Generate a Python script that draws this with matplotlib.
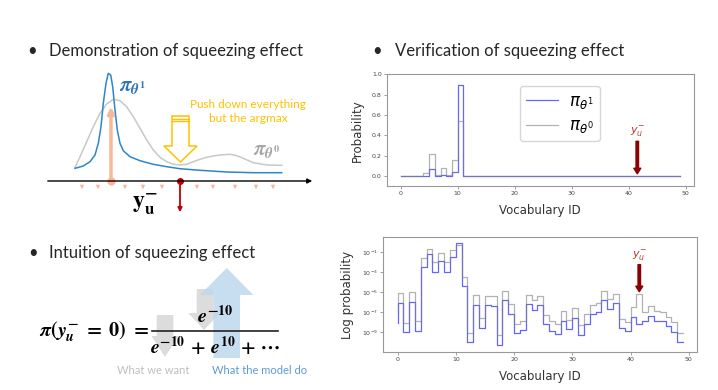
import numpy as np
import matplotlib
matplotlib.use('Agg')
import matplotlib.pyplot as plt
from matplotlib.patches import Polygon

plt.rcParams['mathtext.fontset'] = 'custom'
plt.rcParams['mathtext.it'] = 'STIXGeneral:italic:bold'
plt.rcParams['mathtext.rm'] = 'STIXGeneral:bold'
plt.rcParams['mathtext.bf'] = 'STIXGeneral:bold'
plt.rcParams['mathtext.fallback'] = 'stix'

# ---- data (log10 of probability) ----
vocab_id = np.arange(50)
log_p_theta0 = [-7.1, -5.1, -8.1, -4.97, -7.9, -1.6, -0.67, -2.0, -1.1, -2.0,
                -0.8, -0.27, -3.5, -9.1, -5.3, -7.63, -5.37, -5.4, -9.3, -4.87,
                -6.17, -8.2, -7.87, -5.27, -5.8, -5.37, -7.27, -7.9, -8.23, -6.9,
                -7.77, -6.63, -8.3, -7.23, -6.33, -6.07, -4.9, -5.73, -5.23, -7.67,
                -8.0, -6.5, -5.23, -7.0, -6.42, -6.93, -7.0, -7.5, -8.0, -9.13]
log_p_theta1 = [-8.1, -6.07, -9.0, -6.0, -8.9, -2.5, -1.17, -2.97, -1.9, -2.97,
                -1.47, -0.05, -4.43, -10.07, -6.27, -8.57, -6.33, -6.37, -10.3, -5.83,
                -7.17, -9.17, -8.83, -6.23, -6.8, -6.33, -8.23, -8.9, -9.23, -7.87,
                -8.73, -7.6, -9.3, -8.23, -7.23, -7.03, -5.83, -6.7, -6.15, -8.63,
                -8.93, -7.5, -8.2, -7.95, -7.44, -7.95, -7.95, -8.45, -9.03, -10.05]
p_theta0 = 10.0 ** np.array(log_p_theta0)
p_theta1 = 10.0 ** np.array(log_p_theta1)
target_id = 41.5
log_ticks = [1e-9, 1e-7, 1e-5, 1e-3, 1e-1]

# ---- sketch on the left (slide pixel coords) ----
curve0_x = [75, 80, 86.7, 93.3, 100, 106.7, 113.3, 120, 126.7, 133.3, 140, 146.7, 153.3, 160,
            166.7, 173.3, 180, 186.7, 193.3, 200, 206.7, 213.3, 220, 230, 236.7, 243.3, 253.3,
            266.7, 281.7]
curve0_y = [167.3, 156.7, 141.7, 126.7, 113.3, 104, 99.3, 100.7, 106.7, 116.7, 128.3, 140, 150,
            157.3, 161.7, 164.3, 165, 164.3, 161.7, 159.3, 157.3, 156, 155, 154.3, 155.7, 158.3,
            162.7, 165, 165.3]
curve1_x = [75, 83.3, 90, 95, 98.3, 101, 103.3, 106, 108.3, 110.7, 112.7, 115, 117.3, 120,
            123.3, 130, 140, 153.3, 166.7, 180, 200, 226.7, 253.3, 281.7]
curve1_y = [168.3, 166, 161.7, 155, 143.3, 126.7, 103.3, 83.3, 73.3, 75, 86.7, 110, 130, 143.3,
            150.7, 156.7, 160.7, 164.3, 166.7, 168.7, 170.3, 172, 172.7, 172.7]
small_arrow_x = [82, 98, 125, 143, 162, 197, 213, 235, 256, 273]
push_arrow = [(172, 116), (172, 146), (164, 146), (180.5, 162), (197, 146), (189, 146), (189, 116)]
want_arrows = [
    [(156.7, 315), (156.7, 336), (151.5, 336), (165, 357), (178.5, 336), (173.3, 336), (173.3, 315)],
    [(196.7, 289), (196.7, 313), (188.3, 313), (204, 330), (220, 313), (213.3, 313), (213.3, 289)],
]
model_arrow = [(213.3, 358), (213.3, 295), (200, 295), (226.7, 268), (253.3, 295), (240, 295), (240, 358)]

fig = plt.figure(figsize=(7.18, 3.9), dpi=100)

# full-figure canvas for the slide parts
bg = fig.add_axes([0, 0, 1, 1])
bg.set_xlim(0, 718)
bg.set_ylim(390, 0)
bg.axis('off')

title_font = dict(family=['Lato', 'DejaVu Sans'], fontsize=12, color='#262626', va='center')
bg.text(32, 51, '\u2022', ha='center', **title_font)
bg.text(49, 51, 'Demonstration of squeezing effect', ha='left', **title_font)
bg.text(377, 51, '\u2022', ha='center', **title_font)
bg.text(395, 51, 'Verification of squeezing effect', ha='left', **title_font)
bg.text(33, 253, '\u2022', ha='center', **title_font)
bg.text(49, 253, 'Intuition of squeezing effect', ha='left', **title_font)

# demonstration sketch
bg.plot(curve0_x, curve0_y, color='#c8c8c8', lw=1.1)
bg.plot(curve1_x, curve1_y, color='#2e86c8', lw=1.1)
bg.annotate('', xy=(315, 181), xytext=(45, 181),
            arrowprops=dict(arrowstyle='-|>', color='black', lw=1.0, mutation_scale=7))
bg.annotate('', xy=(111, 104), xytext=(111, 181),
            arrowprops=dict(arrowstyle='-|>', color='#f5b99a', lw=2.5, mutation_scale=9))
bg.plot([111], [181], 'o', color='#f5b99a', ms=5)
for sx in small_arrow_x:
    bg.annotate('', xy=(sx, 192), xytext=(sx, 183),
                arrowprops=dict(arrowstyle='-|>', color='#f5b99a', lw=0.8, mutation_scale=5))
bg.annotate('', xy=(180, 215), xytext=(180, 181),
            arrowprops=dict(arrowstyle='-|>', color='#c00000', lw=1.3, mutation_scale=6))
bg.plot([180], [181], 'o', color='#c00000', ms=4)
bg.add_patch(Polygon(push_arrow, closed=True, fill=False, edgecolor='#ffc000', lw=1.1))
bg.plot([172, 189], [118.5, 118.5], color='#ffc000', lw=1.0)
bg.plot([172, 189], [121, 121], color='#ffc000', lw=1.0)
bg.text(248, 111.5, 'Push down everything\nbut the argmax', color='#ffc000', ha='center', va='center',
        family=['Lato', 'DejaVu Sans'], fontsize=8.5, linespacing=1.25)
bg.text(119, 86, r'$\pi_{\theta^1}$', color='#2e75b6', fontsize=15, va='center')
bg.text(253, 150, r'$\pi_{\theta^0}$', color='#a6a6a6', fontsize=15, va='center')
bg.text(145, 203, r'$\mathbf{y}_\mathbf{u}^{-}$', color='black', fontsize=17, ha='center', va='center')

# intuition: arrows behind the equation
for pts in want_arrows:
    bg.add_patch(Polygon(pts, closed=True, facecolor='#d9d9d9', edgecolor='none', alpha=0.9))
bg.add_patch(Polygon(model_arrow, closed=True, facecolor='#bdd7ee', edgecolor='none', alpha=0.85))
bg.text(149, 337, r'$\pi(y_u^{-}\;=\;0)\;=$', fontsize=14.5, ha='right', va='baseline', zorder=5)
bg.text(215, 323, r'$e^{-10}$', fontsize=14.5, ha='center', va='baseline', zorder=5)
bg.text(215, 354, r'$e^{-10}\,+\,e^{10}\,+\,\cdots$', fontsize=14, ha='center', va='baseline', zorder=5)
bg.plot([152, 278], [331, 331], color='#222222', lw=1.2, zorder=5)
bg.text(153, 370, 'What we want', color='#bfbfbf', ha='center', va='center',
        family=['Lato', 'DejaVu Sans'], fontsize=8)
bg.text(260, 371, 'What the model do', color='#5b9bd5', ha='center', va='center',
        family=['Lato', 'DejaVu Sans'], fontsize=8)

# ---- verification charts ----
def style_axes(ax, ylabel):
    for sp in ax.spines.values():
        sp.set_color('#999999')
        sp.set_linewidth(0.8)
    ax.tick_params(labelsize=4.5, length=2, width=0.5, color='#777777', labelcolor='#444444', pad=1.5)
    ax.set_xlabel('Vocabulary ID', fontsize=8.5, color='#333333', labelpad=6)
    ax.set_ylabel(ylabel, fontsize=8.5, color='#333333', labelpad=6)

ax1 = fig.add_axes([0.5386, 0.5231, 0.428, 0.2864])
ax1.step(vocab_id, p_theta1, where='pre', color='blue', alpha=0.6, lw=0.9, label=r'$\pi_{\theta^1}$')
ax1.step(vocab_id, p_theta0, where='pre', color='gray', alpha=0.6, lw=0.9, label=r'$\pi_{\theta^0}$')
ax1.set_ylim(-0.1, 1.0)
ax1.set_xticks([0, 10, 20, 30, 40, 50])
style_axes(ax1, 'Probability')
leg = ax1.legend(loc='upper left', bbox_to_anchor=(0.434, 0.898), borderaxespad=0,
                 handlelength=1.9, borderpad=0.35, labelspacing=0.35, handletextpad=0.7,
                 prop={'size': 12, 'math_fontfamily': 'dejavusans'})
ax1.annotate('', xy=(target_id, 0.02), xytext=(target_id, 0.34),
             arrowprops=dict(facecolor='#8b0000', edgecolor='#8b0000', width=1.8, headwidth=5, headlength=4))
ax1.text(target_id, 0.43, r'$y_u^{-}$', color='#c0392b', fontsize=8, ha='center', va='center',
         math_fontfamily='dejavusans')

ax2 = fig.add_axes([0.5338, 0.0982, 0.4373, 0.2933])
ax2.step(vocab_id, p_theta1, where='pre', color='blue', alpha=0.6, lw=0.9)
ax2.step(vocab_id, p_theta0, where='pre', color='gray', alpha=0.6, lw=0.9)
ax2.set_yscale('log')
ax2.set_ylim(10 ** -11.0, 10 ** 0.5)
ax2.set_yticks(log_ticks)
ax2.yaxis.set_minor_locator(matplotlib.ticker.NullLocator())
ax2.set_xticks([0, 10, 20, 30, 40, 50])
style_axes(ax2, 'Log probability')
ax2.annotate('', xy=(target_id, 10 ** -4.97), xytext=(target_id, 10 ** -2.25),
             arrowprops=dict(facecolor='#8b0000', edgecolor='#8b0000', width=1.8, headwidth=5, headlength=4))
ax2.text(target_id, 10 ** -1.4, r'$y_u^{-}$', color='#c0392b', fontsize=8, ha='center', va='center',
         math_fontfamily='dejavusans')

fig.savefig('out.png', dpi=100)
